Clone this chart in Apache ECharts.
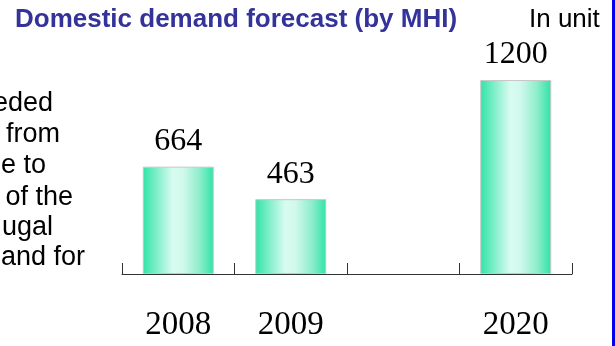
<!DOCTYPE html>
<html>
<head>
<meta charset="utf-8">
<script src="https://cdn.jsdelivr.net/npm/echarts@6/dist/echarts.min.js"></script>
<style>
  html, body { margin: 0; padding: 0; background: #ffffff; }
  #chart { width: 615px; height: 346px; }
</style>
</head>
<body>
<div id="chart"></div>
<script>
// Forecast of domestic demand, units per year
const years = ['2008', '2009', '', '2020'];
const demand = [664, 463, '-', 1200];

// Visible tail of the side text block (clipped at the slide edge)
const sideLines = ['eded', 'from', 'e to', 'of the', 'ugal', 'and for'];

const titleText = 'Domestic demand forecast (by MHI)';
const unitText = 'In unit';

const chart = echarts.init(document.getElementById('chart'), null, { renderer: 'canvas' });

const barFill = {
  type: 'linear', x: 0, y: 0, x2: 1, y2: 0,
  colorStops: [
    { offset: 0, color: '#2fe3a7' },
    { offset: 0.15, color: '#6decc2' },
    { offset: 0.42, color: '#d7fbf0' },
    { offset: 0.56, color: '#d2f9ed' },
    { offset: 0.8, color: '#8eedcb' },
    { offset: 1, color: '#2ee4a8' }
  ]
};

const sideRight = [53, 60, 46, 73, 53, 85];
const sideBase = [112, 143, 174, 206, 236, 266];
const sideSize = 27;

const graphics = [
  {
    type: 'text', x: 15, y: 20,
    style: {
      text: titleText, fill: '#333399',
      font: 'bold 26px "Liberation Sans", Arial, sans-serif',
      align: 'left', verticalAlign: 'middle'
    }
  },
  {
    type: 'text', x: 529, y: 20,
    style: {
      text: unitText, fill: '#000000',
      font: '26px "Liberation Sans", Arial, sans-serif',
      align: 'left', verticalAlign: 'middle'
    }
  },
  {
    type: 'rect', shape: { x: 612, y: 0, width: 3, height: 346 },
    style: { fill: '#0000ee' }, z: 10
  }
];
sideLines.forEach((t, i) => {
  graphics.push({
    type: 'text', x: sideRight[i], y: sideBase[i] - sideSize * 0.31,
    style: {
      text: t, fill: '#000000',
      font: sideSize + 'px "Liberation Sans", Arial, sans-serif',
      align: 'right', verticalAlign: 'middle'
    }
  });
});

chart.setOption({
  animation: false,
  backgroundColor: '#ffffff',
  grid: { left: 122, right: 43, top: 80, bottom: 72, containLabel: false },
  xAxis: {
    type: 'category',
    data: years,
    boundaryGap: true,
    axisLine: { show: true, lineStyle: { color: '#333333', width: 1 } },
    axisTick: { show: true, inside: true, length: 11, interval: 0, lineStyle: { color: '#333333' } },
    axisLabel: {
      interval: 0, margin: 35, color: '#000000',
      fontFamily: '"Liberation Serif", "Times New Roman", serif', fontSize: 33
    },
    splitLine: { show: false }
  },
  yAxis: {
    type: 'value', min: 0, max: 1200,
    show: false,
    splitLine: { show: false }
  },
  series: [{
    type: 'bar',
    data: demand,
    barWidth: 71,
    itemStyle: { color: barFill, borderColor: '#c8c8c8', borderWidth: 1 },
    label: {
      show: true, position: 'top', distance: 9, color: '#000000',
      fontFamily: '"Liberation Serif", "Times New Roman", serif', fontSize: 32
    }
  }],
  graphic: graphics
});
</script>
</body>
</html>
